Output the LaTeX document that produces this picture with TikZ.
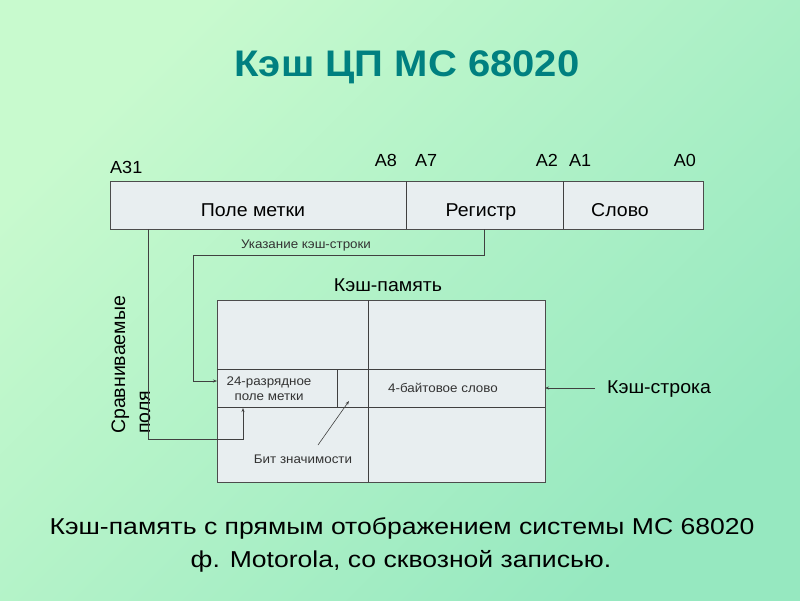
\documentclass[tikz,border=0pt]{standalone}
\usepackage{fontspec}
\setmainfont{Liberation Sans}
\usetikzlibrary{arrows.meta}
\definecolor{bgA}{RGB}{200,250,206}
\definecolor{bgB}{RGB}{150,232,192}
\definecolor{titlec}{RGB}{0,128,128}
\definecolor{cellc}{RGB}{232,238,240}
\tikzset{
  cell/.style={draw=black!70, fill=cellc, line width=0.6pt},
  conn/.style={draw=black!75, line width=0.6pt},
  arr/.style={conn, -{Stealth[length=4pt,width=3pt]}},
  lbl/.style={font=\fontsize{17.5}{20}\selectfont, inner sep=0pt, xscale=1.03},
  big/.style={font=\fontsize{18.6}{22}\selectfont, inner sep=0pt, anchor=base, xscale=1.05},
  small/.style={font=\fontsize{12.5}{16}\selectfont, inner sep=0pt, text=black!80, anchor=base, xscale=1.07},
  vert/.style={font=\fontsize{19.5}{22}\selectfont, inner sep=0pt, rotate=90, anchor=base west},
  foottext/.style={font=\fontsize{23}{30}\selectfont, inner sep=0pt, anchor=base, xscale=1.155},
}
\begin{document}
\begin{tikzpicture}[x=1pt,y=-1pt]
\useasboundingbox (0,0) rectangle (800,600);
\shade[left color=bgA, right color=bgB, shading angle=45] (0,0) rectangle (800,600);
\node[font=\bfseries\fontsize{37}{44}\selectfont, text=titlec, inner sep=0pt, anchor=base, xscale=1.082] (title) at (407,76.7) {Кэш ЦП МС 68020};

% address register
\draw[cell] (110,181) rectangle (703,229);
\draw[conn] (406,181) -- (406,229);
\draw[conn] (563,181) -- (563,229);
\coordinate (fieldL) at (148,229);
\coordinate (fieldR) at (484,229);
\node[big] (tag) at (253,216) {Поле метки};
\node[big] (reg) at (481,216) {Регистр};
\node[big] (word) at (620,216) {Слово};
\node[lbl, anchor=base west] (a31) at (110,173.3) {A31};
\node[lbl, anchor=base east] (a8) at (397,166.7) {A8};
\node[lbl, anchor=base west] (a7) at (415,166.7) {A7};
\node[lbl, anchor=base east] (a2) at (558,166.7) {A2};
\node[lbl, anchor=base west] (a1) at (569,166.7) {A1};
\node[lbl, anchor=base east] (a0) at (696,166.7) {A0};

% cache memory
\node[big] (cm) at (388,291) {Кэш-память};
\draw[cell] (217,300) rectangle (545,482);
\draw[conn] (368,300) -- (368,482);
\draw[conn] (217,369) -- (545,369);
\draw[conn] (217,407) -- (545,407);
\draw[conn] (337,369) -- (337,407);
\coordinate (cacheL) at (217,381);
\coordinate (tagB) at (243,408);
\coordinate (cacheR) at (545,388);
\coordinate (validP) at (349,401);
\coordinate (validS) at (318,445);
\node[small] (tagcell1) at (269,385) {24-разрядное};
\node[small] (tagcell2) at (269,400.7) {поле метки};
\node[small] (wcell) at (443,392) {4-байтовое слово};
\node[small] (valid) at (303,463.3) {Бит значимости};
\node[big, anchor=base west] (line) at (607,393) {Кэш-строка};
\node[small] (ind) at (306,248) {Указание кэш-строки};
\node[vert] (cmp1) at (125,434) {Сравниваемые};
\node[vert] (cmp2) at (150,434) {поля};

% connectors
\draw[arr] (fieldL) -- (148,439) -- (243,439) -- (tagB);
\draw[arr] (fieldR) -- (484,255) -- (193,255) -- (193,381) -- (cacheL);
\draw[arr] (595,388) -- (cacheR);
\draw[arr] (validS) -- (validP);

\node[foottext] (foot1) at (402,534.3) {Кэш-память с прямым отображением системы МС 68020};
\node[foottext] (foot2) at (401,567.7) {ф. Motorola, со сквозной записью.};
\end{tikzpicture}
\end{document}
